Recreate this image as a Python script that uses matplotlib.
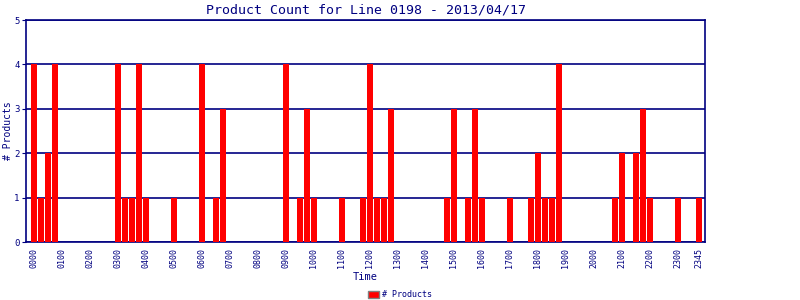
import matplotlib
matplotlib.use("Agg")
import matplotlib.pyplot as plt
from matplotlib.patches import Patch

# 15 minute slots over the day
times = [f"{h:02d}{m:02d}" for h in range(24) for m in (0, 15, 30, 45)]
counts = [4, 1, 2, 4, 0, 0, 0, 0, 0, 0, 0, 0,
          4, 1, 1, 4, 1, 0, 0, 0, 1, 0, 0, 0,
          4, 0, 1, 3, 0, 0, 0, 0, 0, 0, 0, 0,
          4, 0, 1, 3, 1, 0, 0, 0, 1, 0, 0, 1,
          4, 1, 1, 3, 0, 0, 0, 0, 0, 0, 0, 1,
          3, 0, 1, 3, 1, 0, 0, 0, 1, 0, 0, 1,
          2, 1, 1, 4, 0, 0, 0, 0, 0, 0, 0, 1,
          2, 0, 2, 3, 1, 0, 0, 0, 1, 0, 0, 1]
tick_labels = [t for t in times if t.endswith("00")] + ["2345"]

navy = "#000080"
mono = "DejaVu Sans Mono"

fig = plt.figure(figsize=(8, 3), dpi=100)
ax = fig.add_axes([0.033, 0.193, 0.848, 0.74])

x = list(range(len(times)))
ax.bar(x, counts, width=0.86, color="#ff0000", zorder=3)

ax.set_xlim(-1.07, 95.86)
ax.set_ylim(0, 5)
ax.set_yticks(range(6))
ax.yaxis.grid(True, color=navy, linewidth=1.2, zorder=0)
for s in ax.spines.values():
    s.set_color(navy)
    s.set_linewidth(1.2)

tick_pos = [times.index(t) for t in tick_labels]
ax.set_xticks(tick_pos)
ax.set_xticklabels(tick_labels, rotation=90, fontsize=6, family=mono, color=navy)
ax.tick_params(axis="x", length=0, pad=4)
ax.tick_params(axis="y", length=3, color=navy, labelsize=6.5, labelcolor=navy, pad=2)
for lab in ax.get_yticklabels():
    lab.set_family(mono)

ax.set_title("Product Count for Line 0198 - 2013/04/17", fontsize=9.5,
             family=mono, color=navy, pad=5)
ax.set_xlabel("Time", fontsize=7.5, family=mono, color=navy, labelpad=3)
ax.set_ylabel("# Products", fontsize=7, family=mono, color=navy, labelpad=1)

handle = Patch(facecolor="#ff0000", edgecolor="#808080", label="# Products")
fig.legend(handles=[handle], loc="center", bbox_to_anchor=(0.5, 0.017),
           frameon=False, prop={"family": mono, "size": 6},
           handlelength=1.3, handleheight=0.9, handletextpad=0.4,
           labelcolor=navy)

fig.savefig("out.png", dpi=100)
